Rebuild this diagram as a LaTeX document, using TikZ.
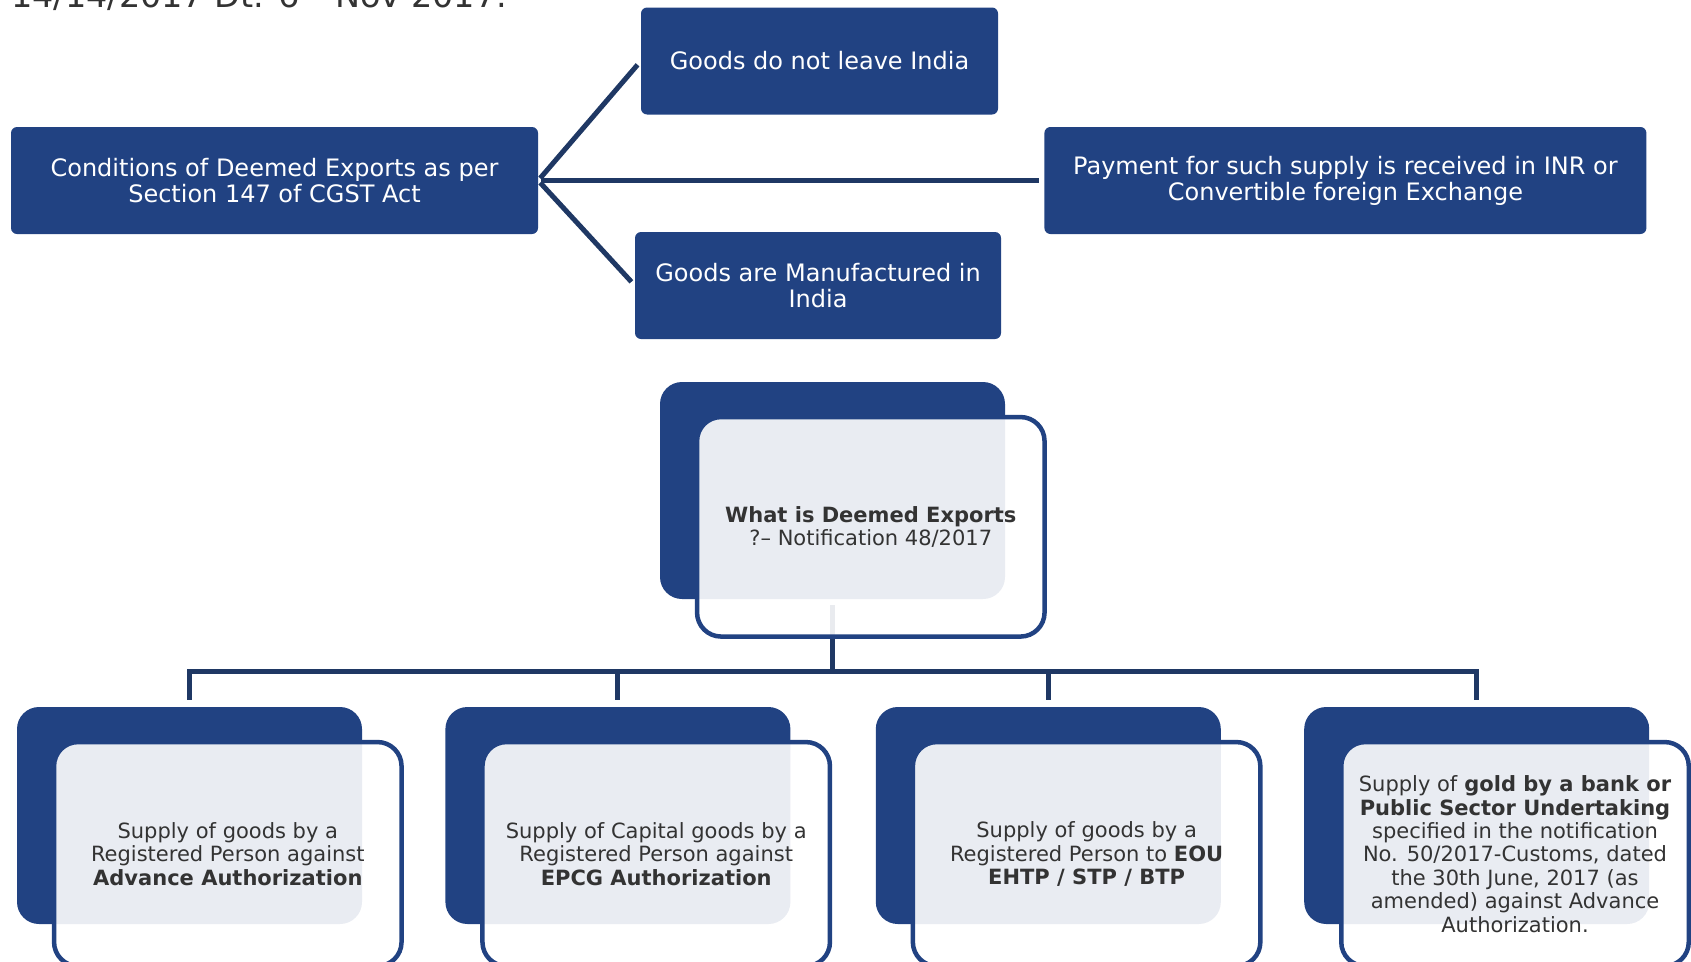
\documentclass[tikz,border=0pt]{standalone}
\usepackage{fontspec}
\setmainfont{DejaVu Sans}
\usetikzlibrary{positioning}
\definecolor{Deep}{RGB}{33,66,130}
\definecolor{Link}{RGB}{31,56,100}
\definecolor{Ink}{RGB}{51,51,51}

\begin{document}
\begin{tikzpicture}[x=1pt, y=-1pt,
    cond/.style={fill=Deep, rounded corners=6pt, text=white, align=center, inner sep=0pt,
      minimum height=107pt, font={\fontsize{24}{26}\selectfont}},
    back/.style={fill=Deep, rounded corners=22pt, minimum width=345pt, minimum height=217pt, inner sep=0pt},
    front/.style={draw=Deep, line width=4.5pt, fill=white, fill opacity=0.9, text opacity=1,
      rounded corners=24pt, minimum width=347.5pt, minimum height=219.5pt, inner sep=0pt,
      text=Ink, align=center, anchor=north west, font={\fontsize{21}{23.4}\selectfont}},
    leaf/.style={front, minimum height=224pt},
    link/.style={draw=Link, line width=5pt, shorten <=3pt, shorten >=5pt},
    treeline/.style={draw=Link, line width=5pt, shorten <=6pt, shorten >=7pt}
  ]
    \clip (0,0) rectangle (1691,961);

    \node[anchor=base west, inner sep=0pt, text=Ink, font={\fontsize{33.5}{40}\selectfont}] (date) at (11,7)
      {14/14/2017 Dt. 6\textsuperscript{th} Nov 2017.};

    % conditions
    \node[cond, minimum width=527pt] (conditions) at (274.5,180.5)
      {Conditions of Deemed Exports as per\\Section 147 of CGST Act};
    \node[cond, minimum width=357pt] (leave) at (819.5,61) {Goods do not leave India};
    \node[cond, minimum width=602pt, right=506pt of conditions] (payment)
      {Payment for such supply is received in INR or\\Convertible foreign Exchange};
    \node[cond, minimum width=366pt] (made) at (818,285.5) {Goods are Manufactured in\\India};

    \draw[link] (conditions.east) -- (leave.west);
    \draw[link] (conditions.east) -- (payment.west);
    \draw[link] (conditions.east) -- (made.west);

    % deemed exports tree
    \node[back] (whatback) at (832.5,490.5) {};
    \node[back] (back1) at (189.5,815.5) {};
    \node[back, right=83pt of back1] (back2) {};
    \node[back, right=85pt of back2] (back3) {};
    \node[back, right=83pt of back3] (back4) {};

    \foreach \k in {1,...,4}
      \draw[treeline] (whatback.south) -- ++(0,72) -| (back\k.north);

    \node[front] (what) at ([shift={(35,33)}]whatback.north west)
      {\textbf{What is Deemed Exports}\\?– Notification 48/2017};
    \node[leaf] (advance) at ([shift={(35,33)}]back1.north west)
      {Supply of goods by a\\Registered Person against\\\textbf{Advance Authorization}};
    \node[leaf] (epcg) at ([shift={(35,33)}]back2.north west)
      {Supply of Capital goods by a\\Registered Person against\\\textbf{EPCG Authorization}};
    \node[leaf] (eou) at ([shift={(35,33)}]back3.north west)
      {Supply of goods by a\\Registered Person to \textbf{EOU}\\\textbf{EHTP / STP / BTP}};
    \node[leaf] (gold) at ([shift={(35,33)}]back4.north west)
      {Supply of \textbf{gold by a bank or}\\\textbf{Public Sector Undertaking}\\specified in the notification\\No. 50/2017-Customs, dated\\the 30th June, 2017 (as\\amended) against Advance\\Authorization.};
\end{tikzpicture}
\end{document}
